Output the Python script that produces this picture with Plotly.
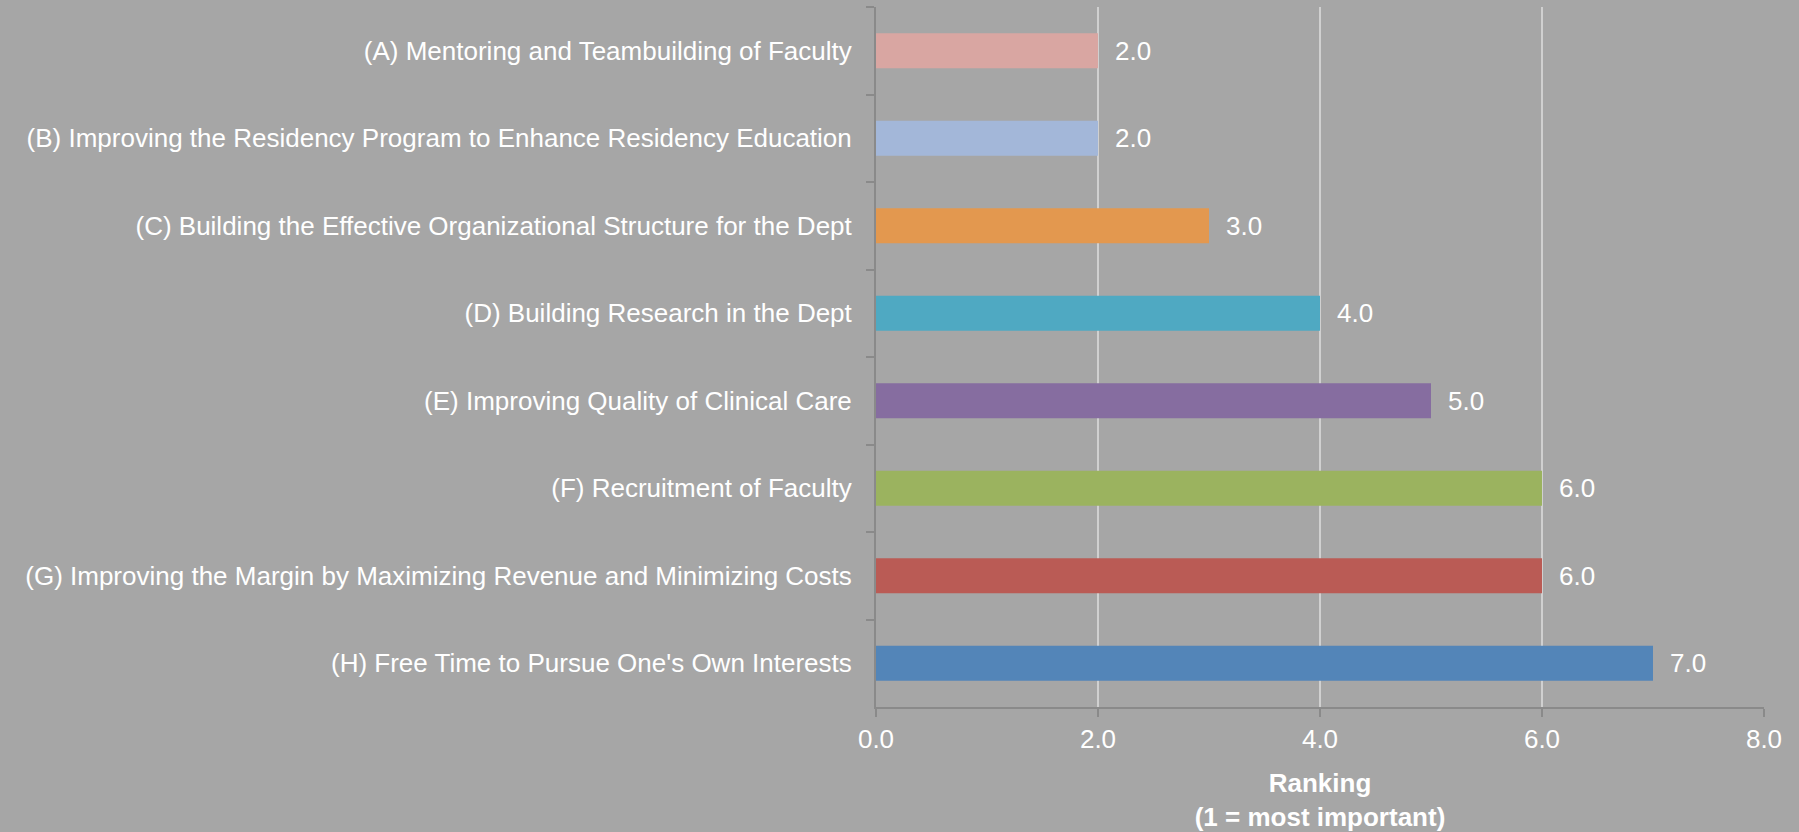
import plotly.graph_objects as go

categories = [
    "(A) Mentoring and Teambuilding of Faculty",
    "(B) Improving the Residency Program to Enhance Residency Education",
    "(C) Building the Effective Organizational Structure for the Dept",
    "(D) Building Research in the Dept",
    "(E) Improving Quality of Clinical Care",
    "(F) Recruitment of Faculty",
    "(G) Improving the Margin by Maximizing Revenue and Minimizing Costs",
    "(H) Free Time to Pursue One's Own Interests",
]
values = [2.0, 2.0, 3.0, 4.0, 5.0, 6.0, 6.0, 7.0]
colors = ["#D9A6A2", "#A3B7D9", "#E3984F", "#4FA9C2", "#866DA0", "#9BB35F", "#BA5B55", "#5385B8"]
x_ticks = [0, 2, 4, 6, 8]
x_title = "<b>Ranking<br>(1 = most important)</b>"

FONT = "Liberation Sans"
BG = "#A6A6A6"
FS = 26

fig = go.Figure(go.Bar(
    x=values, y=categories, orientation="h",
    marker=dict(color=colors, line=dict(width=0)),
    width=0.4,
    hoverinfo="x+y",
))

for v, c in zip(values, categories):
    fig.add_annotation(
        x=v, y=c, text=f"{v:.1f}", showarrow=False,
        xanchor="left", yanchor="middle", xshift=15,
        font=dict(color="white", size=FS, family=FONT),
    )

fig.update_layout(
    width=1799, height=832,
    paper_bgcolor=BG, plot_bgcolor=BG,
    margin=dict(l=876, r=35, t=7, b=125),
    showlegend=False,
    font=dict(family=FONT, color="white", size=FS),
    bargap=0.6,
)
fig.update_xaxes(
    range=[0, 8], tickvals=x_ticks, ticktext=[f"{v:.1f}" for v in x_ticks],
    showgrid=True, gridcolor="#D0D0D0", gridwidth=1.5,
    showline=True, linecolor="#8A8A8A", linewidth=2,
    ticks="outside", ticklen=8, tickcolor="#8A8A8A", tickwidth=2,
    tickfont=dict(size=FS, color="white", family=FONT),
    zeroline=False, automargin=False,
    title=dict(text=x_title, font=dict(size=FS, color="white", family=FONT), standoff=24),
)
fig.update_yaxes(
    categoryorder="array", categoryarray=categories, autorange="reversed",
    showline=True, linecolor="#8A8A8A", linewidth=2,
    ticks="outside", tickson="boundaries", ticklen=8, tickcolor="#8A8A8A", tickwidth=2,
    ticklabelstandoff=17, automargin=False,
    tickfont=dict(size=FS, color="white", family=FONT),
    showgrid=False,
)

fig.write_html(
    "out.html",
    config={"displayModeBar": False},
    post_script="document.body.style.margin='0';document.body.style.background='#A6A6A6';",
)
